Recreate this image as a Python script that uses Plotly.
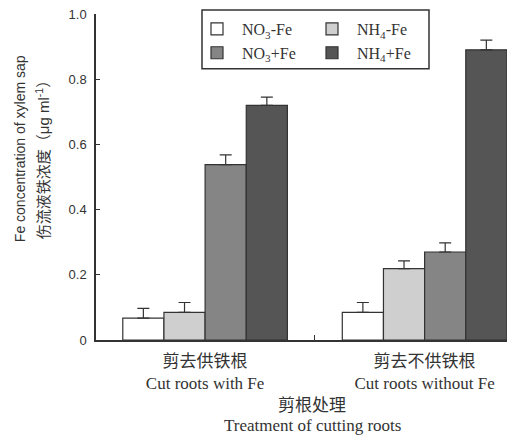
import plotly.graph_objects as go

categories = ["剪去供铁根<br>Cut roots with Fe", "剪去不供铁根<br>Cut roots without Fe"]
series_names = ["NO<sub>3</sub>-Fe", "NH<sub>4</sub>-Fe", "NO<sub>3</sub>+Fe", "NH<sub>4</sub>+Fe"]
no3_minus = [0.067, 0.085]
nh4_minus = [0.085, 0.219]
no3_plus = [0.538, 0.270]
nh4_plus = [0.720, 0.890]
no3_minus_err = [0.030, 0.030]
nh4_minus_err = [0.030, 0.024]
no3_plus_err = [0.030, 0.028]
nh4_plus_err = [0.025, 0.030]
y_tickvals = [0, 0.2, 0.4, 0.6, 0.8, 1.0]
y_ticktext = ["0", "0.2", "0.4", "0.6", "0.8", "1.0"]

colors = ["#ffffff", "#cfcfcf", "#858585", "#555555"]
values = [no3_minus, nh4_minus, no3_plus, nh4_plus]
errs = [no3_minus_err, nh4_minus_err, no3_plus_err, nh4_plus_err]
legends = ["legend", "legend2", "legend", "legend2"]

serif = "Liberation Serif, Times New Roman, Noto Sans CJK SC, serif"
sans = "Liberation Sans, Arial, Noto Sans CJK SC, sans-serif"

fig = go.Figure()
for name, vals, err, col, lg in zip(series_names, values, errs, colors, legends):
    fig.add_trace(go.Bar(
        x=categories, y=vals, name=name, legend=lg,
        marker=dict(color=col, line=dict(color="#333333", width=1.2)),
        error_y=dict(type="data", array=err, arrayminus=[0] * len(err), symmetric=False,
                     color="#333333", thickness=1.2, width=6),
    ))

fig.update_layout(
    width=515, height=441,
    margin=dict(l=88, r=13, t=4, b=109),
    plot_bgcolor="white", paper_bgcolor="white",
    barmode="group", bargap=0.25, bargroupgap=0,
    showlegend=True,
    legend=dict(x=(192 - 96) / 414, xanchor="left", y=1.006, yanchor="top",
                bgcolor="rgba(0,0,0,0)", borderwidth=0, itemwidth=40,
                font=dict(family=serif, size=16, color="#333333"),
                tracegroupgap=0),
    legend2=dict(x=(307 - 96) / 414, xanchor="left", y=1.006, yanchor="top",
                 bgcolor="rgba(0,0,0,0)", borderwidth=0, itemwidth=40,
                 font=dict(family=serif, size=16, color="#333333"),
                 tracegroupgap=0),
    xaxis=dict(range=[-0.497, 1.389], showline=True, linecolor="#333333", linewidth=1.5,
               ticks="inside", tickson="boundaries", ticklen=5, tickcolor="#333333",
               tickfont=dict(family=serif, size=17, color="#333333"),
               ticklabelstandoff=5, automargin=False,
               showgrid=False, zeroline=False),
    yaxis=dict(range=[0, 1.0], showline=True, linecolor="#333333", linewidth=1.5,
               ticks="inside", ticklen=4, tickcolor="#333333",
               tickvals=y_tickvals, ticktext=y_ticktext,
               tickfont=dict(family=sans, size=13, color="#333333"),
               ticklabelstandoff=5, ticklabeloverflow="allow", automargin=False,
               showgrid=False, zeroline=False),
    shapes=[dict(type="rect", xref="paper", yref="paper",
                 x0=(202 - 96) / 414, x1=(429 - 96) / 414,
                 y0=1 - (67 - 12) / 328, y1=1 + (12 - 8) / 328,
                 line=dict(color="#333333", width=1.5), fillcolor="rgba(0,0,0,0)")],
    annotations=[
        dict(text="Fe concentration of xylem sap", textangle=-90, showarrow=False,
             xref="paper", yref="paper", x=(20 - 96) / 414, y=1 - (148 - 12) / 328,
             xanchor="center", yanchor="middle",
             font=dict(family=sans, size=14, color="#333333")),
        dict(text="伤流液铁浓度（μg ml<sup>-1</sup>）", textangle=-90, showarrow=False,
             xref="paper", yref="paper", x=(42 - 96) / 414, y=1 - (155 - 12) / 328,
             xanchor="center", yanchor="middle",
             font=dict(family=sans, size=15, color="#333333")),
        dict(text="剪根处理", showarrow=False,
             xref="paper", yref="paper", x=(312 - 96) / 414, y=-(406 - 340) / 328,
             xanchor="center", yanchor="middle",
             font=dict(family=serif, size=17, color="#333333")),
        dict(text="Treatment of cutting roots", showarrow=False,
             xref="paper", yref="paper", x=(312 - 96) / 414, y=-(426 - 340) / 328,
             xanchor="center", yanchor="middle",
             font=dict(family=serif, size=17, color="#333333")),
    ],
)

fig.write_html("out.html")
